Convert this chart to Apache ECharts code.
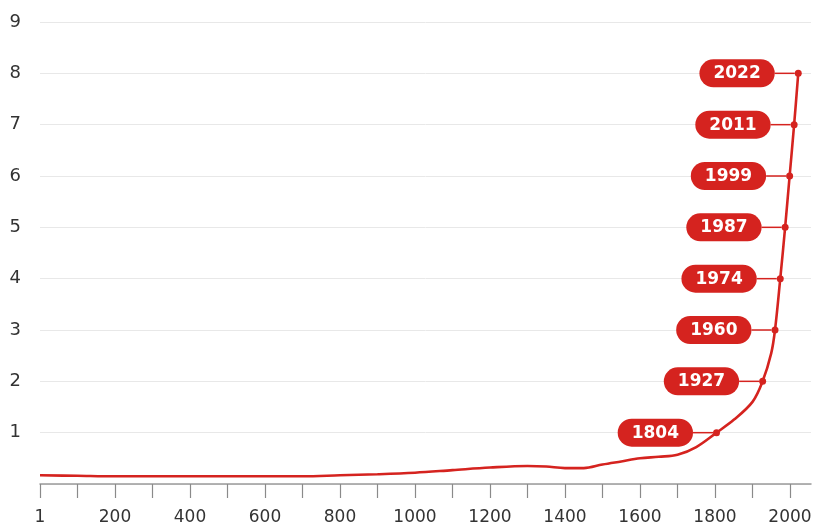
<!DOCTYPE html>
<html>
<head>
<meta charset="utf-8">
<script src="https://cdn.jsdelivr.net/npm/echarts@6/dist/echarts.min.js"></script>
<style>html,body{margin:0;padding:0;background:#fff}#c{width:816px;height:530px}</style>
</head>
<body>
<div id="c"></div>
<script>
// World population (billions) by year
const curveYears = [0,100,200,300,400,500,600,700,800,900,1000,1100,1200,1300,1350,1400,1450,1500,1550,1600,1650,1700,1750,1804,1850,1900,1927,1950,1960,1974,1987,1999,2011,2022];
const curveValues = [0.17,0.16,0.15,0.15,0.15,0.15,0.15,0.15,0.17,0.19,0.22,0.27,0.32,0.35,0.34,0.31,0.31,0.38,0.44,0.5,0.53,0.57,0.72,1,1.25,1.6,2,2.55,3,4,5,6,7,8];
const milestoneYears = [1804,1927,1960,1974,1987,1999,2011,2022];
const milestoneValues = [1,2,3,4,5,6,7,8];
const xTickValues = [0,100,200,300,400,500,600,700,800,900,1000,1100,1200,1300,1400,1500,1600,1700,1800,1900,2000];
const xLabelValues = [0,200,400,600,800,1000,1200,1400,1600,1800,2000];

const RED = '#d5231f';
const chart = echarts.init(document.getElementById('c'));
chart.setOption({
  animation: false,
  textStyle: { fontFamily: 'DejaVu Sans' },
  grid: { left: 40, right: 5, top: 22, bottom: 46, containLabel: false },
  xAxis: {
    type: 'value', min: 0, max: 2056,
    axisLine: { show: true, lineStyle: { color: '#9a9a9a', width: 1.5 } },
    axisTick: { show: true, customValues: xTickValues, length: 14, lineStyle: { color: '#8a8a8a', width: 1.2 } },
    axisLabel: { customValues: xLabelValues, color: '#333', fontSize: 17, margin: 25,
      formatter: v => v === 0 ? '1' : String(v) },
    splitLine: { show: false }
  },
  yAxis: {
    type: 'value', min: 0, max: 9, interval: 1,
    axisLine: { show: false }, axisTick: { show: false },
    axisLabel: { color: '#333', fontSize: 18, margin: 19, formatter: v => v === 0 ? '' : String(v) },
    splitLine: { lineStyle: { color: '#e8e8e8', width: 1 } }
  },
  series: [
    {
      type: 'line', smooth: 0.35, showSymbol: false,
      data: curveYears.map((y, i) => [y, curveValues[i]]),
      lineStyle: { color: RED, width: 2.6 }, z: 2
    },
    {
      type: 'scatter', symbolSize: 7,
      data: milestoneYears.map((y, i) => [y, milestoneValues[i]]),
      itemStyle: { color: RED, opacity: 1 },
      z: 3,
      label: {
        show: true, position: 'left', distance: 0, opacity: 1,
        formatter: p => '{box|' + p.value[0] + '}{ln|}',
        rich: {
          box: { backgroundColor: RED, color: '#fff', fontWeight: 'bold', fontSize: 17,
            fontFamily: 'DejaVu Sans', padding: [6, 14, 5, 14], borderRadius: 14 },
          ln: { width: 20, height: 1.5, backgroundColor: RED }
        }
      }
    }
  ]
});
</script>
</body>
</html>
